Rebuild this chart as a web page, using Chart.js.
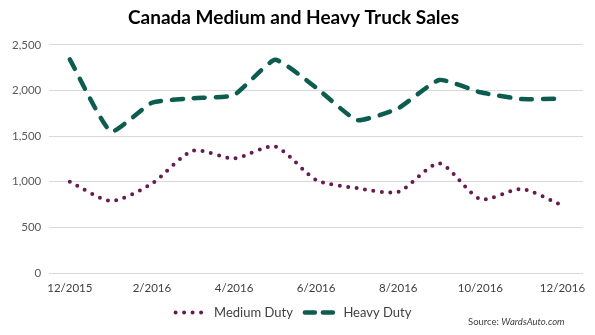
<!DOCTYPE html>
<html>
<head>
<meta charset="utf-8">
<script src="https://cdn.jsdelivr.net/npm/chart.js@4/dist/chart.umd.min.js"></script>
<style>
    html, body { margin: 0; padding: 0; background: #fff; }
    #wrap { position: relative; width: 595px; height: 335px; }
    #source {
        position: absolute; left: 468px; top: 316px;
        font: 9.5px Lato, "Open Sans", sans-serif; color: #404040;
    }
    #source i { font-style: italic; }
</style>
</head>
<body>
<div id="wrap">
    <canvas id="truckChart"></canvas>
    <div id="source">Source: <i>WardsAuto.com</i></div>
</div>
<script>
// monthly sales, 12/2015 - 12/2016
const months = ['12/2015', '1/2016', '2/2016', '3/2016', '4/2016', '5/2016', '6/2016',
                '7/2016', '8/2016', '9/2016', '10/2016', '11/2016', '12/2016'];
const mediumDuty = [1000, 790, 980, 1340, 1255, 1385, 1020, 930, 890, 1200, 810, 920, 740];
const heavyDuty = [2340, 1550, 1865, 1915, 1950, 2335, 2030, 1675, 1805, 2115, 1980, 1905, 1910];
const yTicks = [0, 500, 1000, 1500, 2000, 2500];

const baseFont = 'Lato, "Open Sans", sans-serif';

// legend samples take their dash pattern from the dataset line, not the point
function legendLabels(chart) {
    const items = Chart.defaults.plugins.legend.labels.generateLabels(chart);
    items.forEach(function(item) {
        const ds = chart.data.datasets[item.datasetIndex];
        item.lineDash = ds.legendDash;
        item.lineCap = ds.borderCapStyle;
        item.lineWidth = ds.borderWidth;
        item.strokeStyle = ds.borderColor;
    });
    return items;
}

document.addEventListener('DOMContentLoaded', function() {
    const ctx = document.getElementById('truckChart').getContext('2d');
    new Chart(ctx, {
        type: 'line',
        data: {
            labels: months,
            datasets: [{
                label: 'Medium Duty',
                data: mediumDuty,
                borderColor: '#661a4f',
                borderWidth: 4,
                borderDash: [0, 8.5],
                legendDash: [0, 8.5],
                borderCapStyle: 'round',
                tension: 0.25,
                pointRadius: 0
            }, {
                label: 'Heavy Duty',
                data: heavyDuty,
                borderColor: '#0d5c50',
                borderWidth: 4.5,
                borderDash: [11, 11],
                legendDash: [10, 8],
                borderCapStyle: 'round',
                tension: 0.15,
                pointRadius: 0
            }]
        },
        options: {
            responsive: true,
            maintainAspectRatio: false,
            animation: false,
            layout: { padding: { left: 4, right: 12, top: 4, bottom: 6 } },
            plugins: {
                title: {
                    display: true,
                    text: 'Canada Medium and Heavy Truck Sales',
                    color: '#000',
                    font: { family: baseFont, size: 19, weight: 'bold' },
                    padding: { top: 2, bottom: 16 }
                },
                legend: {
                    position: 'bottom',
                    labels: {
                        usePointStyle: true,
                        pointStyle: 'line',
                        pointStyleWidth: 32,
                        boxWidth: 32,
                        boxHeight: 6,
                        padding: 12,
                        color: '#404040',
                        font: { family: baseFont, size: 13 },
                        generateLabels: legendLabels
                    }
                },
                tooltip: { enabled: false }
            },
            scales: {
                x: {
                    offset: true,
                    grid: { display: false, drawTicks: false },
                    border: { display: false },
                    // keep the month row tight above the legend
                    afterFit: function(scale) {
                        scale.height = 21;
                    },
                    ticks: {
                        autoSkip: false,
                        maxRotation: 0,
                        padding: 8,
                        color: '#404040',
                        font: { family: baseFont, size: 11.5 },
                        callback: function(value, index) {
                            return index % 2 === 0 ? months[index] : '';
                        }
                    }
                },
                y: {
                    min: yTicks[0],
                    max: yTicks[yTicks.length - 1],
                    afterBuildTicks: function(axis) {
                        axis.ticks = yTicks.map(v => ({ value: v }));
                    },
                    grid: { color: '#d9d9d9', drawTicks: false },
                    border: { display: false },
                    ticks: {
                        padding: 8,
                        color: '#595959',
                        font: { family: baseFont, size: 11.5 },
                        callback: value => value.toLocaleString('en-US')
                    }
                }
            }
        }
    });
});
</script>
</body>
</html>
